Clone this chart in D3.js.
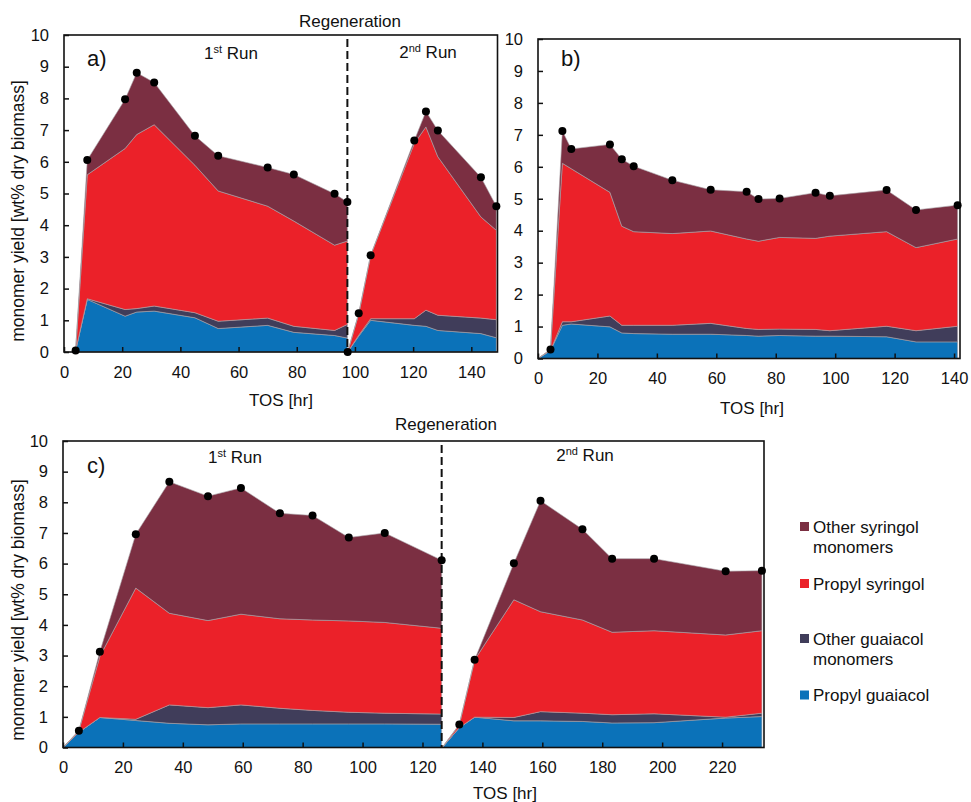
<!DOCTYPE html>
<html>
<head>
<meta charset="utf-8">
<script src="https://cdn.jsdelivr.net/npm/d3@7/dist/d3.min.js"></script>
<style>
  body { margin: 0; background: #fff; }
  svg text { font-family: Arial, "Liberation Sans", sans-serif; fill: #111; }
</style>
</head>
<body>
<svg id="chart" width="971" height="802"></svg>
<script>
// ---------------- DATA ----------------
const seriesKeys = ["pg", "og", "ps", "os"];
const seriesNames = ["Propyl guaiacol", "Other guaiacol monomers", "Propyl syringol", "Other syringol monomers"];
const seriesColors = ["#0B72B9", "#403D5A", "#EB2129", "#7B2F42"];
const yTicks = [0, 1, 2, 3, 4, 5, 6, 7, 8, 9, 10];
const xTicksAB = [0, 20, 40, 60, 80, 100, 120, 140];
const xTicksC = [0, 20, 40, 60, 80, 100, 120, 140, 160, 180, 200, 220];

// Panel a, 1st run
const tosA1 = [4, 8, 21, 25, 31, 45, 53, 70, 79, 93, 97.4];
const pgA1 = [0.05, 1.66, 1.13, 1.26, 1.29, 1.08, 0.74, 0.84, 0.62, 0.52, 0.44];
const ogA1 = [0, 0.02, 0.21, 0.11, 0.16, 0.16, 0.23, 0.23, 0.19, 0.16, 0.43];
const psA1 = [0, 3.91, 5.08, 5.49, 5.72, 4.65, 4.11, 3.53, 3.32, 2.69, 2.63];
const osA1 = [0, 0.47, 1.55, 1.95, 1.33, 0.93, 1.11, 1.22, 1.47, 1.62, 1.23];
// Panel a, 2nd run
const tosA2 = [97.5, 101.3, 105.4, 120.4, 124.4, 128.5, 143.3, 148.6];
const pgA2 = [0, 0.5, 1.0, 0.84, 0.81, 0.68, 0.58, 0.45];
const ogA2 = [0, 0.03, 0.05, 0.21, 0.51, 0.48, 0.49, 0.57];
const psA2 = [0, 0.67, 2.0, 5.53, 5.78, 5.0, 3.19, 2.82];
const osA2 = [0, 0.02, 0, 0.09, 0.49, 0.83, 1.25, 0.76];
// Panel b
const tosB = [0, 4.2, 8.2, 11.2, 24.2, 28.2, 32.2, 45.2, 58.1, 70.2, 74.2, 81.3, 93.4, 98.2, 117.3, 127.2, 141.2];
const pgB = [0, 0.25, 1.04, 1.08, 0.99, 0.80, 0.78, 0.76, 0.76, 0.72, 0.70, 0.72, 0.70, 0.70, 0.68, 0.52, 0.52];
const ogB = [0, 0, 0.11, 0.07, 0.34, 0.24, 0.26, 0.28, 0.34, 0.22, 0.21, 0.20, 0.21, 0.17, 0.33, 0.35, 0.49];
const psB = [0, 0.03, 4.96, 4.79, 3.87, 3.10, 2.93, 2.87, 2.89, 2.80, 2.76, 2.87, 2.85, 2.96, 2.96, 2.60, 2.73];
const osB = [0, 0, 1.01, 0.62, 1.50, 2.10, 2.05, 1.67, 1.29, 1.48, 1.32, 1.22, 1.43, 1.26, 1.30, 1.18, 1.06];
// Panel c, 1st run
const tosC1 = [0, 5.3, 12.3, 24.3, 35.5, 48.4, 59.4, 72.4, 83.3, 95.4, 107.4, 126.4];
const pgC1 = [0, 0.5, 0.98, 0.88, 0.79, 0.74, 0.77, 0.77, 0.77, 0.77, 0.77, 0.76];
const ogC1 = [0, 0, 0, 0.04, 0.60, 0.56, 0.62, 0.51, 0.44, 0.38, 0.35, 0.33];
const psC1 = [0, 0.05, 1.99, 4.28, 2.99, 2.84, 2.96, 2.92, 2.95, 2.98, 2.96, 2.80];
const osC1 = [0, 0, 0.15, 1.76, 4.29, 4.06, 4.12, 3.44, 3.41, 2.72, 2.92, 2.22];
// Panel c, 2nd run
const tosC2 = [126.6, 132.3, 137.4, 150.5, 159.4, 173.4, 183.3, 197.3, 221.2, 233.3];
const pgC2 = [0, 0.65, 0.99, 0.87, 0.87, 0.85, 0.80, 0.81, 0.96, 1.01];
const ogC2 = [0, 0, 0, 0.11, 0.30, 0.27, 0.27, 0.29, 0.03, 0.11];
const psC2 = [0, 0.10, 1.87, 3.84, 3.26, 3.04, 2.69, 2.71, 2.68, 2.69];
const osC2 = [0, 0, 0, 1.19, 3.62, 2.96, 2.40, 2.35, 2.08, 1.96];

// ---------------- BUILD ----------------
function rows(tos, pg, og, ps, os) {
  return tos.map((t, i) => ({ tos: t, pg: pg[i], og: og[i], ps: ps[i], os: os[i] }));
}

const panels = [
  {
    label: "a)", x0: 64, x1: 497.5, y0: 35, y1: 352, dom: 149, xTicks: xTicksAB,
    runs: [
      { data: rows(tosA1, pgA1, ogA1, psA1, osA1), dotStart: true },
      { data: rows(tosA2, pgA2, ogA2, psA2, osA2), dotStart: true }
    ],
    regen: 97.4, yTitleY: 211,
    labelPos: [87, 65.5], tosPos: [281, 406],
    regenText: [350, 27], run1: [231, 59], run2: [428, 58]
  },
  {
    label: "b)", x0: 538, x1: 960, y0: 39, y1: 358.5, dom: 142, xTicks: xTicksAB,
    runs: [{ data: rows(tosB, pgB, ogB, psB, osB), dotStart: false }],
    regen: null, yTitleY: null,
    labelPos: [561, 65.5], tosPos: [752, 414]
  },
  {
    label: "c)", x0: 63, x1: 764, y0: 441, y1: 747.5, dom: 234, xTicks: xTicksC,
    runs: [
      { data: rows(tosC1, pgC1, ogC1, psC1, osC1), dotStart: false },
      { data: rows(tosC2, pgC2, ogC2, psC2, osC2), dotStart: false }
    ],
    regen: 126.4, yTitleY: 610,
    labelPos: [87, 473], tosPos: [505, 799],
    regenText: [446, 430], run1: [235, 463], run2: [585, 461]
  }
];

const svg = d3.select("#chart");
const stack = d3.stack().keys(seriesKeys);

panels.forEach(p => {
  const x = d3.scaleLinear().domain([0, p.dom]).range([p.x0, p.x1]);
  const y = d3.scaleLinear().domain([0, 10]).range([p.y1, p.y0]);
  const g = svg.append("g");

  const area = d3.area()
    .x(d => x(d.data.tos))
    .y0(d => y(d[0]))
    .y1(d => y(d[1]));

  p.runs.forEach(run => {
    const layers = stack(run.data);
    g.selectAll(null).data(layers).enter().append("path")
      .attr("d", area)
      .attr("fill", (d, i) => seriesColors[i])
      .attr("stroke", "#a9a3a8")
      .attr("stroke-width", 0.6);
  });

  if (p.regen !== null) {
    g.append("line")
      .attr("x1", x(p.regen)).attr("x2", x(p.regen))
      .attr("y1", p.y0 + 4).attr("y2", p.y1)
      .attr("stroke", "#111").attr("stroke-width", 2)
      .attr("stroke-dasharray", "8,4");
  }

  const xAxis = d3.axisBottom(x).tickValues(p.xTicks).tickSizeInner(-5).tickSizeOuter(0).tickPadding(14);
  const yAxis = d3.axisLeft(y).tickValues(yTicks).tickSizeInner(-5).tickSizeOuter(0).tickPadding(15);
  const gx = g.append("g").attr("transform", `translate(0,${p.y1})`).call(xAxis);
  const gy = g.append("g").attr("transform", `translate(${p.x0},0)`).call(yAxis);
  [gx, gy].forEach(ax => {
    ax.select(".domain").remove();
    ax.selectAll(".tick line").attr("stroke", "#111").attr("stroke-width", 1.5);
    ax.selectAll(".tick text").attr("font-size", "16.5px")
      .attr("font-family", "Arial, 'Liberation Sans', sans-serif").attr("fill", "#111");
  });

  g.append("rect")
    .attr("x", p.x0).attr("y", p.y0)
    .attr("width", p.x1 - p.x0).attr("height", p.y1 - p.y0)
    .attr("fill", "none").attr("stroke", "#111").attr("stroke-width", 1.6);

  p.runs.forEach(run => {
    const pts = run.data.filter((d, i) => i > 0 || run.dotStart);
    g.selectAll(null).data(pts).enter().append("circle")
      .attr("cx", d => x(d.tos))
      .attr("cy", d => y(d.pg + d.og + d.ps + d.os))
      .attr("r", 4)
      .attr("fill", "#000");
  });

  g.append("text").attr("x", p.labelPos[0]).attr("y", p.labelPos[1])
    .attr("font-size", "22px").text(p.label);
  g.append("text").attr("x", p.tosPos[0]).attr("y", p.tosPos[1])
    .attr("text-anchor", "middle").attr("font-size", "17px").text("TOS [hr]");
  if (p.yTitleY !== null) {
    g.append("text")
      .attr("transform", `translate(${24},${p.yTitleY}) rotate(-90)`)
      .attr("text-anchor", "middle").attr("font-size", "17.5px")
      .text("monomer yield [wt% dry biomass]");
  }
  if (p.regenText) {
    g.append("text").attr("x", p.regenText[0]).attr("y", p.regenText[1])
      .attr("text-anchor", "middle").attr("font-size", "17px").text("Regeneration");
    const r1 = g.append("text").attr("x", p.run1[0]).attr("y", p.run1[1])
      .attr("text-anchor", "middle").attr("font-size", "17px");
    r1.append("tspan").text("1");
    r1.append("tspan").attr("font-size", "11px").attr("dy", "-6").text("st");
    r1.append("tspan").attr("dy", "6").text(" Run");
    const r2 = g.append("text").attr("x", p.run2[0]).attr("y", p.run2[1])
      .attr("text-anchor", "middle").attr("font-size", "17px");
    r2.append("tspan").text("2");
    r2.append("tspan").attr("font-size", "11px").attr("dy", "-6").text("nd");
    r2.append("tspan").attr("dy", "6").text(" Run");
  }
});

// ---------------- LEGEND ----------------
const legendOrder = [3, 2, 1, 0];
const legendLines = [["Other syringol", "monomers"], ["Propyl syringol"], ["Other guaiacol", "monomers"], ["Propyl guaiacol"]];
const legendSquareY = [522, 579, 634, 690.5];
const lg = svg.append("g");
legendOrder.forEach((si, k) => {
  lg.append("rect").attr("x", 800).attr("y", legendSquareY[k])
    .attr("width", 9).attr("height", 9).attr("fill", seriesColors[si]);
  const t = lg.append("text").attr("x", 813).attr("y", legendSquareY[k] + 10.5)
    .attr("font-size", "17px");
  legendLines[k].forEach((line, j) => {
    t.append("tspan").attr("x", 813).attr("dy", j === 0 ? 0 : 20.5).text(line);
  });
});
</script>
</body>
</html>
